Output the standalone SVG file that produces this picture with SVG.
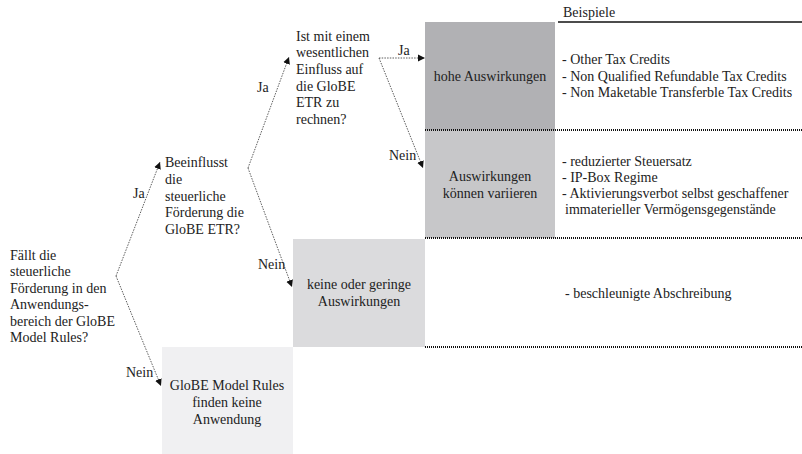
<svg xmlns="http://www.w3.org/2000/svg" width="802" height="454" viewBox="0 0 802 454">
<defs>
<style>
text{font-family:"Liberation Serif","Times New Roman",serif;font-size:14px;fill:#222}
.c{text-anchor:middle}
.con{fill:none;stroke:#333;stroke-width:0.8;stroke-dasharray:1.5 1.2;marker-end:url(#ah)}
.sep{stroke:#111;stroke-width:2;stroke-dasharray:1 1}
</style>
<marker id="ah" markerWidth="8" markerHeight="8" refX="7" refY="4" orient="auto" markerUnits="userSpaceOnUse">
<path d="M0,0.5 L7,4 L0,7.5 Z" fill="#111"/>
</marker>
</defs>
<rect width="802" height="454" fill="#fff"/>

<g id="q1">
<text x="10" y="260">Fällt die</text>
<text x="10" y="276">steuerliche</text>
<text x="10" y="293">Förderung in den</text>
<text x="10" y="309">Anwendungs-</text>
<text x="10" y="326">bereich der GloBE</text>
<text x="10" y="342">Model Rules?</text>
</g>
<g id="q2">
<text x="165" y="167">Beeinflusst</text>
<text x="165" y="184">die</text>
<text x="165" y="201">steuerliche</text>
<text x="165" y="217">Förderung die</text>
<text x="165" y="234">GloBE ETR?</text>
</g>
<g id="q3">
<text x="296" y="41">Ist mit einem</text>
<text x="296" y="57">wesentlichen</text>
<text x="296" y="74">Einfluss auf</text>
<text x="296" y="91">die GloBE</text>
<text x="296" y="107">ETR zu</text>
<text x="296" y="124">rechnen?</text>
</g>

<g id="hoch">
<rect x="425" y="22" width="130" height="108" fill="#b1b1b4"/>
<text class="c" x="490" y="81">hohe Auswirkungen</text>
</g>
<g id="variieren">
<rect x="425" y="130" width="130" height="108" fill="#c7c7c9"/>
<text class="c" x="490" y="181">Auswirkungen</text>
<text class="c" x="490" y="198">können variieren</text>
</g>
<g id="gering">
<rect x="293" y="239" width="132" height="108" fill="#dbdbdd"/>
<text class="c" x="359" y="289">keine oder geringe</text>
<text class="c" x="359" y="306">Auswirkungen</text>
</g>
<g id="keine">
<rect x="162" y="347" width="131" height="107" fill="#f0f0f2"/>
<text class="c" x="227" y="390">GloBE Model Rules</text>
<text class="c" x="227" y="407">finden keine</text>
<text class="c" x="227" y="424">Anwendung</text>
</g>

<g id="beispiele">
<text x="563" y="17">Beispiele</text>
<line x1="558" y1="22" x2="802" y2="22" stroke="#111" stroke-width="1.6"/>
<text x="562" y="64">- Other Tax Credits</text>
<text x="562" y="81">- Non Qualified Refundable Tax Credits</text>
<text x="562" y="97">- Non Maketable Transferble Tax Credits</text>
<text x="562" y="166">- reduzierter Steuersatz</text>
<text x="562" y="182">- IP-Box Regime</text>
<text x="562" y="198">- Aktivierungsverbot selbst geschaffener</text>
<text x="565" y="214">immaterieller Vermögensgegenstände</text>
<text x="565" y="298">- beschleunigte Abschreibung</text>
</g>

<g id="separators">
<line class="sep" x1="425" y1="130" x2="802" y2="130"/>
<line class="sep" x1="425" y1="238" x2="802" y2="238"/>
<line class="sep" x1="425" y1="347" x2="802" y2="347"/>
</g>

<g id="connectors">
<path class="con" d="M116,276 L160,162"/>
<path class="con" d="M116,276 L161,386"/>
<path class="con" d="M248,168 L289,57"/>
<path class="con" d="M248,168 L292,287"/>
<path class="con" d="M379,58 L425,58"/>
<path class="con" d="M379,58 L423,168"/>
<text x="133" y="198">Ja</text>
<text x="126" y="377">Nein</text>
<text x="257" y="92">Ja</text>
<text x="258" y="269">Nein</text>
<text x="398" y="55">Ja</text>
<text x="389" y="160">Nein</text>
</g>
</svg>
